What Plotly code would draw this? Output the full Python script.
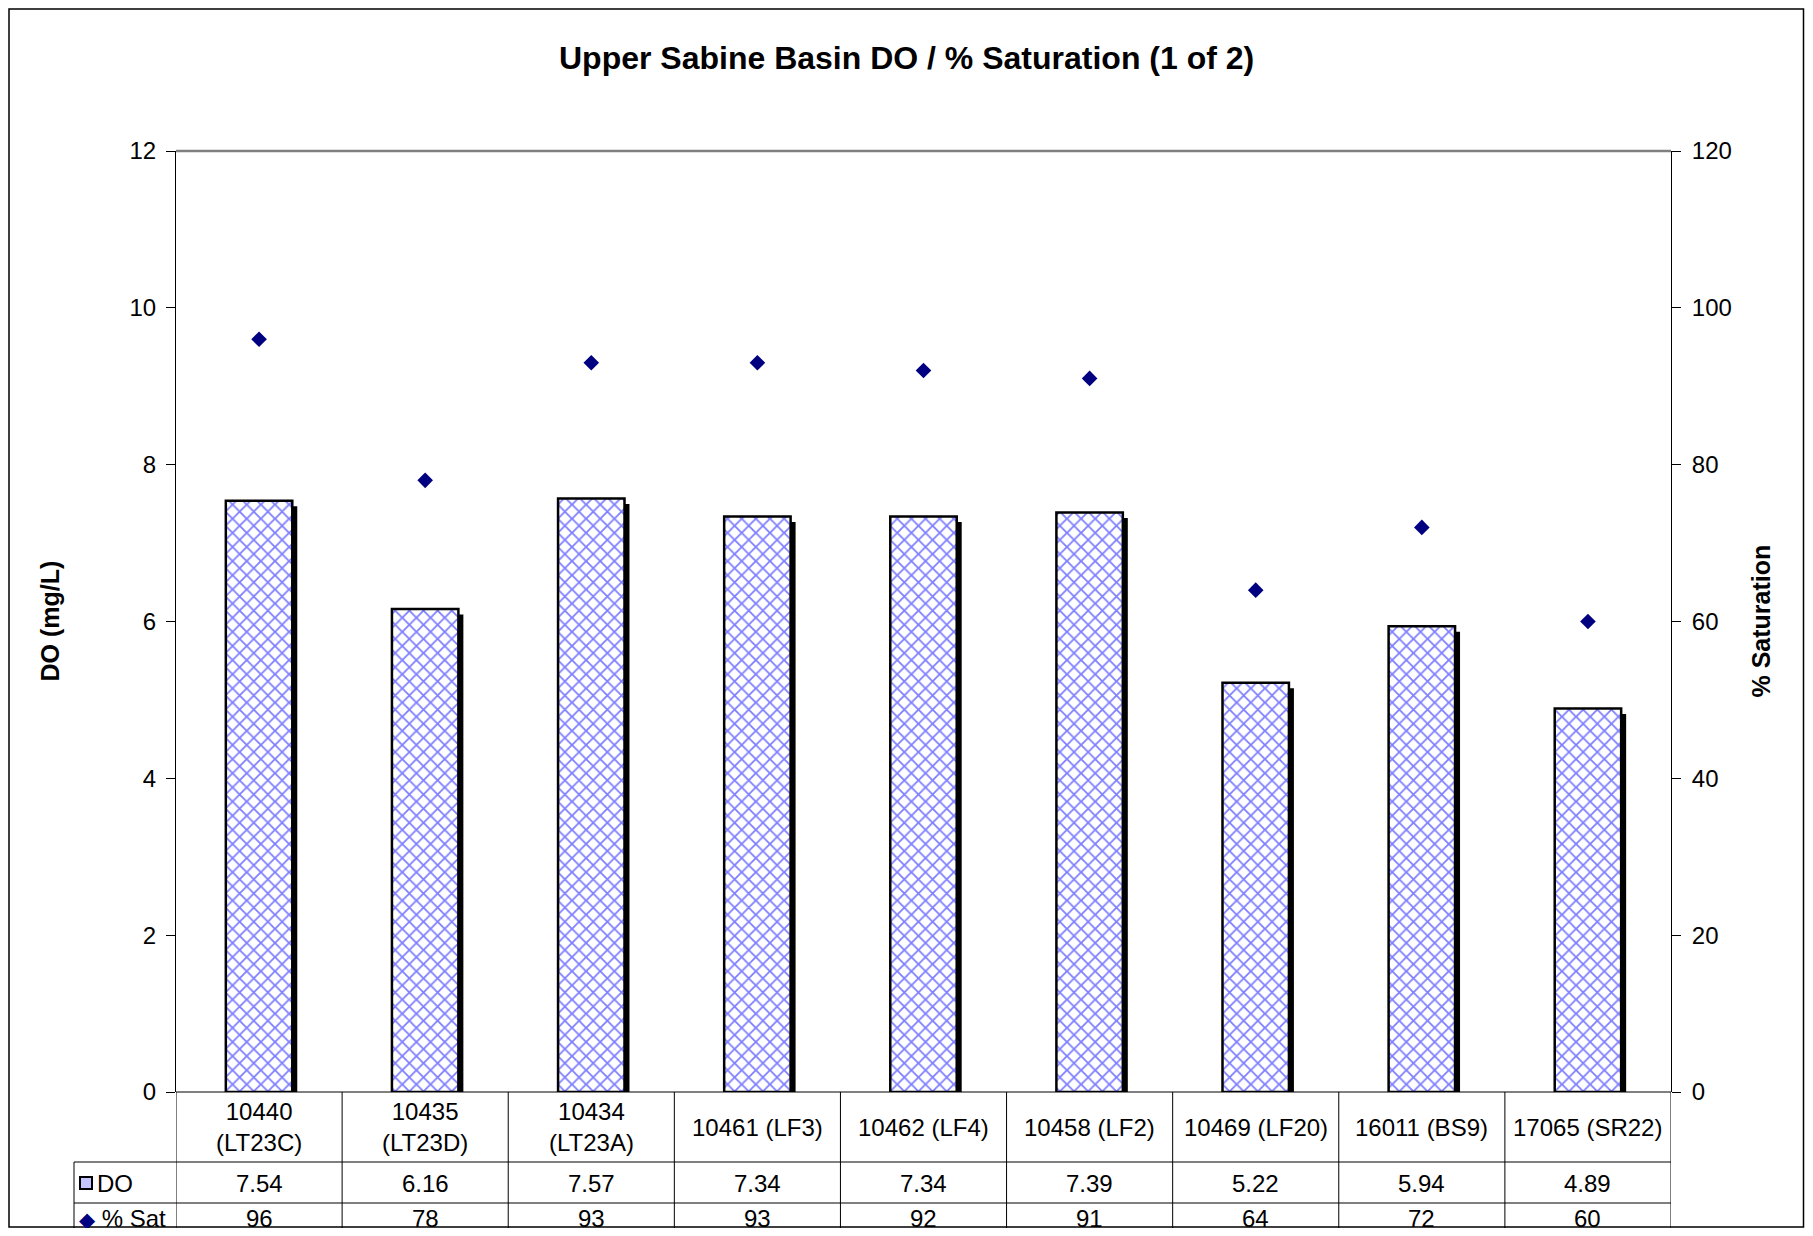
import plotly.graph_objects as go

categories = ["10440 (LT23C)", "10435 (LT23D)", "10434 (LT23A)", "10461 (LF3)", "10462 (LF4)",
              "10458 (LF2)", "10469 (LF20)", "16011 (BS9)", "17065 (SR22)"]
cat_labels = ["10440<br>(LT23C)", "10435<br>(LT23D)", "10434<br>(LT23A)", "10461 (LF3)", "10462 (LF4)",
              "10458 (LF2)", "10469 (LF20)", "16011 (BS9)", "17065 (SR22)"]
do_values = [7.54, 6.16, 7.57, 7.34, 7.34, 7.39, 5.22, 5.94, 4.89]
sat_values = [96, 78, 93, 93, 92, 91, 64, 72, 60]

# page has an 8px body margin: figure drawn at (8, 8)
OFF = 8
W, H = 1813 - 2 * OFF, 1236 - 2 * OFF
PLOT_L, PLOT_R, PLOT_T, PLOT_B = 176, 1671, 151, 1092   # screen px
L, T = PLOT_L - OFF, PLOT_T - OFF
R, B = W - (PLOT_R - OFF), H - (PLOT_B - OFF)
PW, PH = W - L - R, H - T - B
FONT = "Liberation Sans, Arial, sans-serif"


def px(x):
    return (x - OFF - L) / PW


def py(y):
    return (H - B - (y - OFF)) / PH


fig = go.Figure()

# shadow bars
fig.add_trace(go.Bar(
    x=categories, y=do_values, base=-0.07, width=0.4, offset=-0.17,
    marker=dict(color="black", line=dict(width=0)), showlegend=False, hoverinfo="skip"))
# main bars
fig.add_trace(go.Bar(
    x=categories, y=do_values, width=0.4, offset=-0.2, name="DO",
    marker=dict(color="white", line=dict(color="black", width=2.5),
                pattern=dict(shape="x", fgcolor="#0000ff", bgcolor="white", size=10, solidity=0.33)),
    showlegend=False))
fig.add_trace(go.Scatter(
    x=categories, y=sat_values, mode="markers", name="% Sat", yaxis="y2",
    marker=dict(symbol="diamond", color="#000080", size=12), showlegend=False))

shapes = []
line = dict(color="black", width=1)
# outer border (kept just inside the figure)
shapes.append(dict(type="rect", xref="paper", yref="paper",
                   x0=(1 - L) / PW, x1=(W - 1.5 - L) / PW, y0=py(1227), y1=(H - B - 1) / PH,
                   line=dict(color="black", width=1.5), layer="below"))
# top plot border (gray)
shapes.append(dict(type="line", xref="paper", yref="paper", x0=0, x1=1, y0=1, y1=1,
                   line=dict(color="#808080", width=2.5)))
# table horizontal lines
for yy, x0 in [(1092, 176), (1162, 74), (1203, 74)]:
    shapes.append(dict(type="line", xref="paper", yref="paper", x0=px(x0), x1=1, y0=py(yy), y1=py(yy), line=line))
# table left edge
shapes.append(dict(type="line", xref="paper", yref="paper", x0=px(74), x1=px(74), y0=py(1162), y1=py(1236), line=line))
# category boundaries
for i in range(len(categories) + 1):
    shapes.append(dict(type="line", xref="x", yref="paper", x0=i - 0.5, x1=i - 0.5,
                       y0=py(1092), y1=py(1236), line=line))
# DO legend key
shapes.append(dict(type="rect", xref="paper", yref="paper", x0=px(80), x1=px(92), y0=py(1189), y1=py(1177),
                   line=dict(color="black", width=2), fillcolor="#c4c4ff"))

annotations = []
tf = dict(family=FONT, size=24, color="black")
for i, c in enumerate(categories):
    annotations.append(dict(xref="x", yref="paper", x=c, y=py(1127), text=cat_labels[i], showarrow=False,
                            font=tf, xanchor="center", yanchor="middle"))
    annotations.append(dict(xref="x", yref="paper", x=c, y=py(1183), text=f"{do_values[i]:.2f}", showarrow=False,
                            font=tf, xanchor="center", yanchor="middle"))
    annotations.append(dict(xref="x", yref="paper", x=c, y=py(1218), text=str(sat_values[i]), showarrow=False,
                            font=tf, xanchor="center", yanchor="middle"))
annotations.append(dict(xref="paper", yref="paper", x=px(95), y=py(1183), text="DO", showarrow=False,
                        font=tf, xanchor="left", yanchor="middle"))
annotations.append(dict(xref="paper", yref="paper", x=px(77), y=py(1218),
                        text="<span style='color:#000080;font-size:21px'>◆</span> % Sat",
                        showarrow=False, font=tf, xanchor="left", yanchor="middle"))
# axis titles
annotations.append(dict(xref="paper", yref="paper", x=px(49), y=0.5, text="<b>DO (mg/L)</b>", textangle=-90,
                        showarrow=False, font=dict(family=FONT, size=25), xanchor="center", yanchor="middle"))
annotations.append(dict(xref="paper", yref="paper", x=px(1760), y=0.5, text="<b>% Saturation</b>", textangle=-90,
                        showarrow=False, font=dict(family=FONT, size=25), xanchor="center", yanchor="middle"))
# chart title (centred on the whole chart area)
annotations.append(dict(xref="paper", yref="paper", x=px(906), y=py(58),
                        text="<b>Upper Sabine Basin DO / % Saturation (1 of 2)</b>", showarrow=False,
                        font=dict(family=FONT, size=32), xanchor="center", yanchor="middle"))

fig.update_layout(
    width=W, height=H,
    margin=dict(l=L, r=R, t=T, b=B, pad=0),
    paper_bgcolor="white", plot_bgcolor="white",
    font=dict(family=FONT, size=24, color="black"),
    barmode="overlay",
    shapes=shapes,
    annotations=annotations,
    xaxis=dict(type="category", categoryorder="array", categoryarray=categories, range=[-0.5, 8.5],
               showticklabels=False, ticks="", showgrid=False, zeroline=False, showline=False, fixedrange=True),
    yaxis=dict(range=[0, 12], dtick=2, tick0=0, ticks="outside", ticklen=9, tickcolor="black",
               showline=True, linecolor="black", linewidth=1, showgrid=False, zeroline=False,
               ticklabelstandoff=5, tickfont=dict(family=FONT, size=24)),
    yaxis2=dict(range=[0, 120], dtick=20, tick0=0, overlaying="y", side="right", ticks="outside", ticklen=9,
                tickcolor="black", showline=True, linecolor="black", linewidth=1, showgrid=False, zeroline=False,
                ticklabelstandoff=6, tickfont=dict(family=FONT, size=24)),
)

fig.write_html("out.html")
